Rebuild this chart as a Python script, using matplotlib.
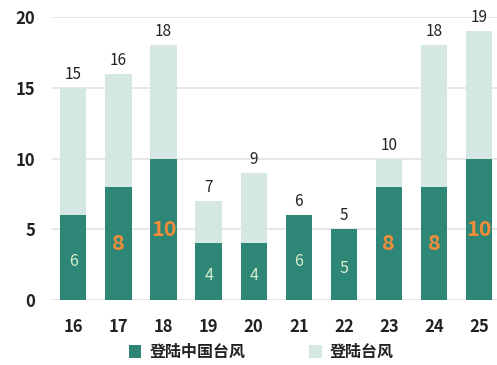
import matplotlib
matplotlib.use('Agg')
import matplotlib.pyplot as plt
import numpy as np

plt.rcParams['font.family'] = ['Noto Sans CJK SC', 'DejaVu Sans']

years = ['16', '17', '18', '19', '20', '21', '22', '23', '24', '25']
china = [6, 8, 10, 4, 4, 6, 5, 8, 8, 10]
total = [15, 16, 18, 7, 9, 6, 5, 10, 18, 19]
highlight = ['8', '10']

dark = '#2e8676'
light = '#d5e7e3'
orange = '#f28c38'
pale = '#d9f0cc'

fig = plt.figure(figsize=(4.97, 3.65), dpi=100)
ax = fig.add_axes([0.105, 0.178, 0.895, 0.775])

x = np.arange(len(years))
rest = [t - c for t, c in zip(total, china)]
w = 0.58
ax.bar(x, china, width=w, color=dark, label='登陆中国台风', zorder=2)
ax.bar(x, rest, width=w, bottom=china, color=light, label='登陆台风', zorder=2)

for i in range(len(years)):
    s = str(china[i])
    if s in highlight:
        ax.text(x[i], china[i] / 2, s, ha='center', va='center', color=orange,
                fontsize=15.5, fontweight='bold', zorder=3)
    else:
        ax.text(x[i], china[i] / 2 - 0.3, s, ha='center', va='center', color=pale,
                fontsize=11.5, zorder=3)
    ax.text(x[i], total[i] + 0.35, str(total[i]), ha='center', va='bottom',
            color='#222222', fontsize=11, clip_on=False, zorder=3)

ax.set_xlim(-0.47, 9.4)
ax.set_ylim(0, 20)
ax.set_yticks([0, 5, 10, 15, 20])
ax.set_xticks(x)
ax.set_xticklabels(years)
ax.grid(axis='y', color='#e3e3e3', linewidth=1.2, zorder=0)
for sp in ax.spines.values():
    sp.set_visible(False)
ax.tick_params(length=0, labelsize=12, colors='#222222')
ax.tick_params(axis='x', pad=13)
ax.tick_params(axis='y', pad=12)
for lab in ax.get_xticklabels() + ax.get_yticklabels():
    lab.set_fontweight('bold')

leg = ax.legend(loc='upper center', bbox_to_anchor=(0.47, -0.105), ncol=2, frameon=False,
                fontsize=11.5, handlelength=0.8, handleheight=0.8, columnspacing=4,
                handletextpad=0.5)
for t in leg.get_texts():
    t.set_fontweight('bold')
    t.set_color('#222222')

fig.savefig('out.png', dpi=100)
